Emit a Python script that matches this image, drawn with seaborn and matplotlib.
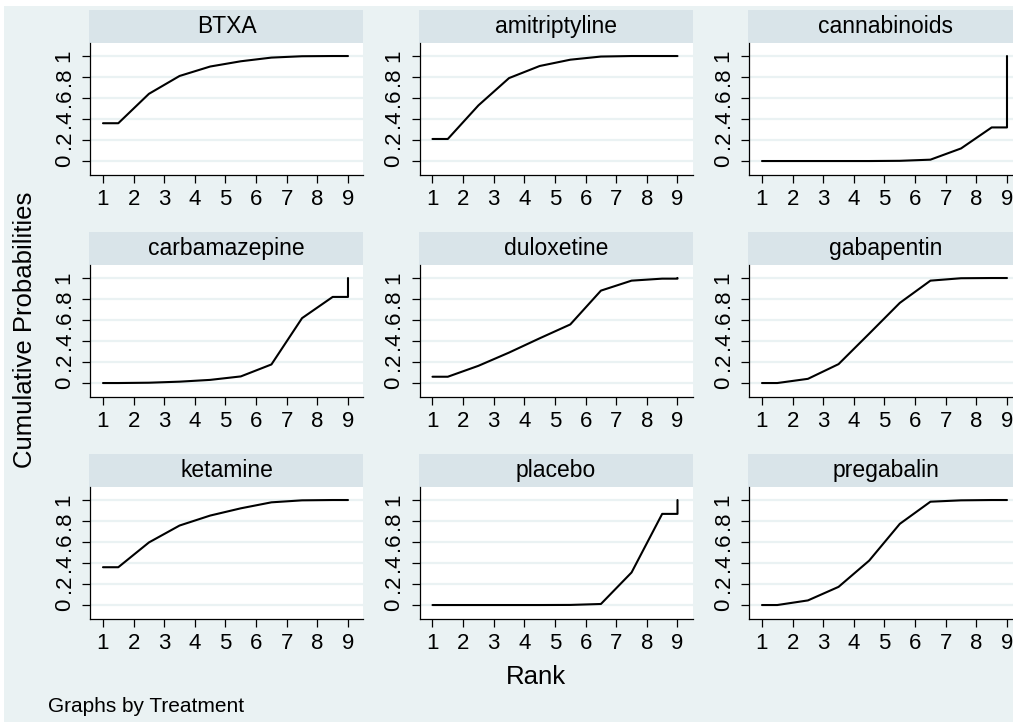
import numpy as np
import pandas as pd
import matplotlib
matplotlib.use("Agg")
import matplotlib.pyplot as plt
from matplotlib.patches import Rectangle
import seaborn as sns

# Cumulative ranking probabilities (rank 1 = best) for each treatment
treatments = ["BTXA", "amitriptyline", "cannabinoids",
              "carbamazepine", "duloxetine", "gabapentin",
              "ketamine", "placebo", "pregabalin"]
ranks = [1, 2, 3, 4, 5, 6, 7, 8, 9]

btxa          = [0.36, 0.64, 0.81, 0.90, 0.95, 0.985, 0.998, 1.00, 1.00]
amitriptyline = [0.21, 0.53, 0.79, 0.905, 0.965, 0.995, 1.00, 1.00, 1.00]
cannabinoids  = [0.00, 0.00, 0.00, 0.00, 0.002, 0.013, 0.12, 0.32, 1.00]
carbamazepine = [0.00, 0.003, 0.013, 0.03, 0.063, 0.177, 0.618, 0.82, 1.00]
duloxetine    = [0.06, 0.164, 0.29, 0.426, 0.558, 0.88, 0.975, 0.994, 1.00]
gabapentin    = [0.00, 0.04, 0.18, 0.47, 0.763, 0.975, 0.998, 1.00, 1.00]
ketamine      = [0.36, 0.596, 0.757, 0.852, 0.921, 0.978, 0.997, 1.00, 1.00]
placebo       = [0.00, 0.00, 0.00, 0.00, 0.001, 0.01, 0.31, 0.868, 1.00]
pregabalin    = [0.00, 0.044, 0.173, 0.423, 0.773, 0.984, 0.997, 1.00, 1.00]

cumprob = [btxa, amitriptyline, cannabinoids, carbamazepine, duloxetine,
           gabapentin, ketamine, placebo, pregabalin]

ytick_vals = [0, 0.2, 0.4, 0.6, 0.8, 1.0]
ytick_labels = ["0", ".2", ".4", ".6", ".8", "1"]

# Long-format table: each rank probability is drawn at the midpoint between
# ranks, with flat ends at rank 1 and rank 9 (as in Stata's sucra plots)
rows = []
for name, cp in zip(treatments, cumprob):
    xs = [ranks[0]] + [r + 0.5 for r in ranks[:-1]] + [ranks[-1], ranks[-1]]
    ys = [cp[0]] + list(cp[:-1]) + [cp[-2], cp[-1]]
    for order, (x, y) in enumerate(zip(xs, ys)):
        rows.append({"Treatment": name, "Rank": x, "Cum": y, "order": order})
df = pd.DataFrame(rows)

sns.set_theme(style="white")
plt.rcParams["font.family"] = ["Liberation Sans", "DejaVu Sans"]

BG = "#eaf2f3"
STRIP = "#d9e4e9"
W, H = 1013, 722

fig = plt.figure(figsize=(W / 100, H / 100), dpi=100, facecolor=BG)
# thin white outer margin along the top and left edges
fig.patches.append(Rectangle((0, 1 - 6 / H), 1, 6 / H, transform=fig.transFigure,
                             facecolor="white", edgecolor="none", zorder=0))
fig.patches.append(Rectangle((0, 0), 4 / W, 1, transform=fig.transFigure,
                             facecolor="white", edgecolor="none", zorder=0))

col_left = [90, 419.5, 749]
row_strip_top = [10, 232, 454]
strip_h = 33
ax_w, ax_h = 273, 132

for i, name in enumerate(treatments):
    r, c = divmod(i, 3)
    left = col_left[c]
    top = row_strip_top[r] + strip_h
    ax = fig.add_axes([left / W, 1 - (top + ax_h) / H, ax_w / W, ax_h / H])
    ax.set_facecolor("white")
    sub = df[df["Treatment"] == name].sort_values("order")
    sns.lineplot(data=sub, x="Rank", y="Cum", sort=False, estimator=None,
                 color="black", linewidth=1.5, ax=ax, legend=False)
    ax.set_xlim(0.576, 9.49)
    ax.set_ylim(-0.133, 1.124)
    ax.set_xticks(ranks)
    ax.set_xticklabels([str(v) for v in ranks])
    ax.set_yticks(ytick_vals)
    ax.set_yticklabels(ytick_labels, rotation=90, va="center")
    ax.grid(axis="y", color=BG, linewidth=1.6)
    ax.set_axisbelow(True)
    ax.tick_params(axis="both", which="both", direction="out", length=6,
                   width=0.9, color="black", labelsize=16, labelcolor="black",
                   left=True, bottom=True)
    ax.tick_params(axis="x", pad=4)
    ax.tick_params(axis="y", pad=5)
    for side in ["top", "right"]:
        ax.spines[side].set_visible(False)
    for side in ["left", "bottom"]:
        ax.spines[side].set_color("black")
        ax.spines[side].set_linewidth(0.9)
    ax.set_xlabel("")
    ax.set_ylabel("")
    # header strip with the treatment name
    ax.add_patch(Rectangle((-1 / ax_w, 1), 1 + 1 / ax_w, strip_h / ax_h,
                           transform=ax.transAxes, facecolor=STRIP,
                           edgecolor="none", clip_on=False))
    ax.text(0.5, 1 + strip_h / ax_h / 2, name, transform=ax.transAxes,
            ha="center", va="center", fontsize=16.5, color="black")

fig.text(25 / W, 1 - 330 / H, "Cumulative Probabilities", rotation=90,
         ha="center", va="center", fontsize=18.5, color="black")
fig.text(536 / W, 1 - 677 / H, "Rank", ha="center", va="center",
         fontsize=18.5, color="black")
fig.text(48 / W, 1 - 712 / H, "Graphs by Treatment", ha="left",
         va="baseline", fontsize=15, color="black")

fig.savefig("out.png", dpi=100, facecolor=BG)
